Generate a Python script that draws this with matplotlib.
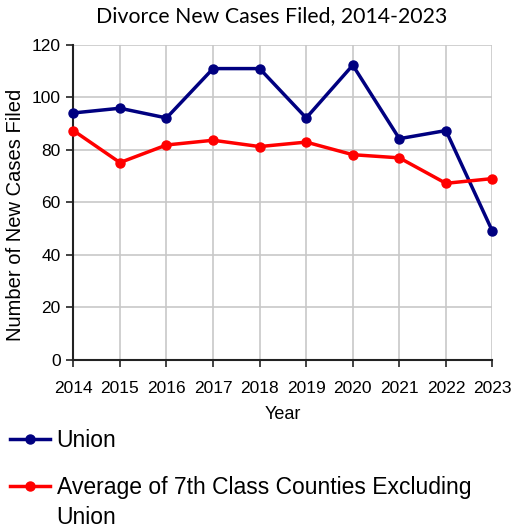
import matplotlib
matplotlib.use("Agg")
import matplotlib.pyplot as plt

# data
years = [2014, 2015, 2016, 2017, 2018, 2019, 2020, 2021, 2022, 2023]
union = [94.1, 95.9, 92.2, 111.0, 111.0, 92.2, 112.3, 84.3, 87.4, 49.0]
avg_7th = [87.4, 75.2, 81.9, 83.7, 81.3, 83.0, 78.2, 77.0, 67.3, 69.1]
y_ticks = [0, 20, 40, 60, 80, 100, 120]
labels = ['Union', 'Average of 7th Class Counties Excluding', 'Union']

plt.rcParams['font.family'] = ['Liberation Sans', 'DejaVu Sans']

fig = plt.figure(figsize=(5.13, 5.29), dpi=100)
ax = fig.add_axes([0.143, 0.3195, 0.817, 0.5955])

ax.plot(years, union, color='#000080', linewidth=2.5, marker='o',
        markersize=6.5, label=labels[0], clip_on=False, zorder=3)
ax.plot(years, avg_7th, color='#ff0000', linewidth=2.5, marker='o',
        markersize=6.5, label=labels[1], clip_on=False, zorder=3)

ax.set_xlim(years[0], years[-1])
ax.set_ylim(0, 120)
ax.set_xticks(years)
ax.set_yticks(y_ticks)
ax.tick_params(labelsize=12.5, length=5, width=1.2, color='#222222', pad=4)
ax.tick_params(axis='x', pad=10)
ax.grid(True, color='#c8c8c8', linewidth=1.2)
ax.set_axisbelow(True)
for s in ['top', 'right']:
    ax.spines[s].set_visible(False)
for s in ['left', 'bottom']:
    ax.spines[s].set_linewidth(1.5)
    ax.spines[s].set_color('#222222')

ax.set_ylabel('Number of New Cases Filed', fontsize=14.5)
ax.yaxis.set_label_coords(-0.115, 0.46)
ax.set_xlabel('Year', fontsize=13, labelpad=7)
fig.text(0.530, 0.970, 'Divorce New Cases Filed, 2014-2023',
         family=['Lato', 'DejaVu Sans'], fontsize=15.3, ha='center', va='center')

leg = fig.legend(loc='upper left', bbox_to_anchor=(0.01, 0.198), frameon=False,
                 fontsize=16.5, handlelength=1.75, handletextpad=0.3,
                 labelspacing=1.05, borderaxespad=0, borderpad=0.2)

# wrapped second line of the long legend label, placed under its first line
fig.canvas.draw()
bb = leg.get_texts()[1].get_window_extent()
fig.text(bb.x0 / fig.bbox.width, (bb.y0 + bb.height / 2 - 30) / fig.bbox.height,
         labels[2], fontsize=16.5, ha='left', va='center')

fig.savefig('out.png', dpi=100)
